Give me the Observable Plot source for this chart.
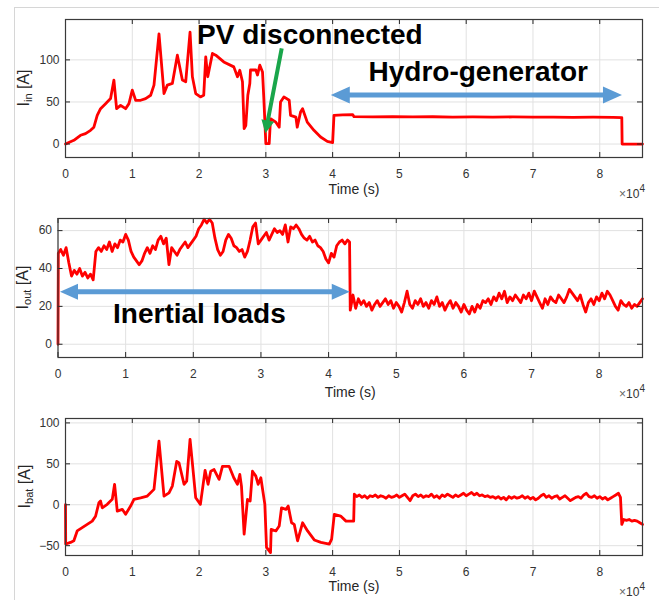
<!DOCTYPE html>
<html>
<head>
<meta charset="utf-8">
<script src="https://cdn.jsdelivr.net/npm/d3@7"></script>
<script src="https://cdn.jsdelivr.net/npm/@observablehq/plot@0.6"></script>
<style>
  html, body { margin: 0; padding: 0; background: #fff; }
  #fig { position: relative; width: 664px; height: 600px; overflow: hidden; background: #fff;
         font-family: "Liberation Sans", Arial, Helvetica, sans-serif; }
  #border { position: absolute; left: 14px; top: 7px; width: 644px; height: 600px;
            border-left: 1px solid #d6d6d6; border-top: 1px solid #d6d6d6; }
  #fig svg { position: absolute; left: 0; }
</style>
</head>
<body>
<div id="fig"><div id="border"></div></div>
<script>
// ---------------- data (time in units of 10^4 s, currents in A) ----------------
const xTicks = [0, 1, 2, 3, 4, 5, 6, 7, 8];
const xDomain = [0, 8.64];
const inTicks = [0, 50, 100];
const outTicks = [0, 20, 40, 60];
const batTicks = [-50, 0, 50, 100];

// I_in
const tIn = [
  0, 0.125, 0.225, 0.30, 0.375, 0.425, 0.475, 0.525, 0.60, 0.675, 0.725, 0.765, 0.825, 0.90, 0.95,
  1.0, 1.05, 1.125, 1.20, 1.275, 1.325, 1.40, 1.475, 1.525, 1.60, 1.675, 1.75, 1.80, 1.865, 1.90, 1.95,
  2.02, 2.07, 2.10, 2.13, 2.20, 2.25, 2.37, 2.52, 2.575, 2.61, 2.65, 2.675, 2.70, 2.73, 2.76, 2.77, 2.85, 2.875, 2.91, 2.95, 2.97,
  3.0, 3.05, 3.07, 3.15, 3.20, 3.22, 3.27, 3.35, 3.37, 3.45, 3.47, 3.52, 3.55, 3.62, 3.72, 3.82, 3.92, 4.0,
  4.02, 4.15, 4.30, 4.32, 4.6, 4.9, 5.2, 5.5, 5.8, 6.1, 6.4, 6.7, 7.0, 7.3, 7.6, 7.9, 8.2, 8.33, 8.335, 8.64
];
const iIn = [
  0, 4.4, 10.4, 12.4, 16.3, 20, 34, 42, 48, 54, 76, 42, 46, 42, 48,
  64, 52, 52, 54, 58, 70, 131, 60, 70, 72, 105.6, 76, 74, 133, 80, 60,
  56, 58, 103.6, 80, 107.6, 105.6, 97.6, 91.7, 80, 87.7, 74, 18.3, 22, 58, 72, 88, 88, 82, 93.7, 85.7, 54,
  0.5, 0.5, 30, 26, 20, 50, 56, 52, 34, 32, 20, 38, 42, 26, 16.3, 8.3, 3.2, 1.7,
  34, 34.6, 35, 32.5, 32.3, 32.6, 32.2, 32.4, 32.1, 32.3, 32, 32.2, 31.9, 32.1, 31.8, 31.9, 31.6, 31.5, 0, 0
];

// I_out
const tOut = [
  0, 0.005, 0.04, 0.08, 0.12, 0.16, 0.20, 0.24, 0.28, 0.32, 0.36, 0.40, 0.44, 0.48, 0.52,
  0.56, 0.60, 0.64, 0.68, 0.72, 0.76, 0.80, 0.84, 0.88, 0.92, 0.96, 1.00,
  1.04, 1.08, 1.12, 1.16, 1.20, 1.24, 1.28, 1.32, 1.36, 1.40, 1.44, 1.48, 1.52,
  1.56, 1.60, 1.64, 1.68, 1.72, 1.76, 1.80, 1.84, 1.88, 1.92, 1.96, 2.00,
  2.04, 2.08, 2.12, 2.16, 2.20, 2.24, 2.28, 2.32, 2.36, 2.40, 2.44, 2.48, 2.52,
  2.56, 2.60, 2.64, 2.68, 2.72, 2.76, 2.80, 2.84, 2.88, 2.92, 2.96, 3.00,
  3.04, 3.08, 3.12, 3.16, 3.20, 3.24, 3.28, 3.32, 3.36, 3.40, 3.44, 3.48, 3.52,
  3.56, 3.60, 3.64, 3.68, 3.72, 3.76, 3.80, 3.84, 3.88, 3.92, 3.96, 4.00,
  4.04, 4.08, 4.12, 4.16, 4.20, 4.24, 4.28, 4.31, 4.32,
  4.36, 4.40, 4.44, 4.48, 4.52, 4.56, 4.60, 4.64, 4.68, 4.72, 4.76, 4.80, 4.84, 4.88, 4.92, 4.96, 5.00,
  5.04, 5.08, 5.12, 5.16, 5.20, 5.24, 5.28, 5.32, 5.36, 5.40, 5.44, 5.48, 5.52, 5.56, 5.60, 5.64, 5.68, 5.72, 5.76, 5.80, 5.84, 5.88, 5.92, 5.96, 6.00,
  6.04, 6.08, 6.12, 6.16, 6.20, 6.24, 6.28, 6.32, 6.36, 6.40, 6.44, 6.48, 6.52, 6.56, 6.60, 6.64, 6.68, 6.72, 6.76, 6.80, 6.84, 6.88, 6.92, 6.96, 7.00,
  7.04, 7.08, 7.12, 7.16, 7.20, 7.24, 7.28, 7.32, 7.36, 7.40, 7.44, 7.48, 7.52, 7.56, 7.60, 7.64, 7.68, 7.72, 7.76, 7.80, 7.84, 7.88, 7.92, 7.96, 8.00,
  8.04, 8.08, 8.12, 8.16, 8.20, 8.24, 8.28, 8.32, 8.36, 8.40, 8.44, 8.48, 8.52, 8.56, 8.60, 8.64
];
const iOut = [
  0, 48, 50, 47, 51, 43, 36, 39, 37, 40, 36, 38, 35, 37, 34,
  49, 51, 49, 52, 50, 54, 49, 53, 51, 55, 54, 58,
  55, 49, 46, 44, 42, 44, 48, 51, 48, 52, 50, 55, 57,
  53, 56, 42, 51, 49, 47, 50, 52, 54, 51, 53, 55,
  57, 61, 63, 66, 64, 66, 64, 56, 50, 47, 49, 55, 58,
  56, 52, 51, 49, 50, 46, 49, 55, 62, 64, 53, 55,
  57, 59, 55, 58, 61, 59, 60, 58, 63, 54, 62, 61, 63,
  61, 58, 56, 55, 57, 54, 55, 52, 51, 49, 45, 43,
  48, 46, 52, 54, 55, 53, 55, 54, 18,
  26, 19, 24, 21, 23, 20, 22, 18, 21, 23, 20, 22, 24, 21, 23, 19, 22,
  20, 17, 22, 28, 21, 19, 23, 21, 24, 20, 22, 19, 23, 21, 25, 20, 22, 18, 21, 23, 19, 22, 20, 17, 21,
  18, 16, 20, 17, 21, 19, 23, 22, 24, 21, 25, 23, 27, 24, 28, 22, 25, 23, 26, 24, 22, 26, 24, 27, 23,
  28, 25, 22, 19, 24, 21, 25, 23, 22, 26, 24, 22, 25, 29, 27, 25, 23, 26, 21, 17, 22, 24, 21, 25, 23,
  27, 24, 28, 26, 23, 20, 18, 23, 21, 20, 22, 19, 21, 20, 22, 24
];

// I_bat
const tBat = [
  0, 0.003, 0.075, 0.125, 0.175, 0.25, 0.325, 0.40, 0.45, 0.50, 0.525, 0.55, 0.625, 0.70, 0.735, 0.775, 0.85, 0.90, 0.975,
  1.025, 1.125, 1.225, 1.325, 1.40, 1.475, 1.55, 1.60, 1.665, 1.70, 1.775, 1.815, 1.865, 1.90, 1.95, 2.02,
  2.09, 2.135, 2.175, 2.225, 2.30, 2.35, 2.45, 2.52, 2.575, 2.61, 2.635, 2.675, 2.725, 2.765, 2.80, 2.85, 2.885, 2.925, 2.985,
  3.01, 3.07, 3.08, 3.15, 3.20, 3.235, 3.30, 3.335, 3.385, 3.425, 3.475, 3.55, 3.625, 3.725, 3.825, 3.95, 3.985,
  4.025, 4.12, 4.20, 4.27, 4.315, 4.325,
  4.36, 4.40, 4.44, 4.48, 4.52, 4.56, 4.60, 4.64, 4.68, 4.72, 4.76, 4.80, 4.84, 4.88, 4.92, 4.96, 5.00,
  5.04, 5.08, 5.12, 5.16, 5.20, 5.24, 5.28, 5.32, 5.36, 5.40, 5.44, 5.48, 5.52, 5.56, 5.60, 5.64, 5.68, 5.72, 5.76, 5.80, 5.84, 5.88, 5.92, 5.96, 6.00,
  6.04, 6.08, 6.12, 6.16, 6.20, 6.24, 6.28, 6.32, 6.36, 6.40, 6.44, 6.48, 6.52, 6.56, 6.60, 6.64, 6.68, 6.72, 6.76, 6.80, 6.84, 6.88, 6.92, 6.96, 7.00,
  7.04, 7.08, 7.12, 7.16, 7.20, 7.24, 7.28, 7.32, 7.36, 7.40, 7.44, 7.48, 7.52, 7.56, 7.60, 7.64, 7.68, 7.72, 7.76, 7.80, 7.84, 7.88, 7.92, 7.96, 8.00,
  8.04, 8.08, 8.12, 8.16, 8.20, 8.24, 8.28, 8.31, 8.33, 8.36, 8.40, 8.44, 8.48, 8.52, 8.56, 8.60, 8.64
];
const iBat = [
  0, -48, -46, -44, -32, -28, -24, -20, -14, 2.4, 4.5, -3.7, 0.5, 6.6, 25, -7.7, -5.6, -11.7, -1.6,
  6.6, 8.5, 10.6, 18.8, 77.7, 10.6, 14.6, 22.8, 53, 51, 25, 29, 79.8, 51, 8.5, 0.5,
  42, 25, 41, 43, 31, 47, 47, 33, 25, 37, 22.8, -36, 6.6, 4.5, 41, 35, 25, 33, 0.5,
  -52, -58.5, -30, -32, -26, -3.7, -5.6, -1.6, -22, -24, -44, -22, -32, -43, -46, -48, -42,
  -11.7, -13.8, -20, -20, -20, 13,
  10, 12, 9, 11, 8, 11, 10, 12, 9, 11, 10, 8, 11, 9, 10, 12, 9,
  11, 13, 9, 5, 11, 13, 10, 12, 9, 11, 10, 13, 9, 11, 8, 12, 10, 13, 11, 9, 12, 10, 12, 14, 11,
  13, 15, 12, 14, 11, 12, 10, 11, 9, 10, 8, 10, 7, 9, 6, 10, 8, 10, 8, 9, 11, 8, 10, 7, 9,
  6, 8, 11, 13, 9, 11, 8, 10, 11, 7, 9, 11, 8, 5, 7, 9, 10, 8, 12, 14, 10, 9, 11, 8, 10,
  7, 9, 6, 8, 10, 12, 14, 9, -24, -18, -19, -18, -20, -19, -20, -22, -24
];

// annotations (data units)
const pvNote = [{x: 3.66, y: 129.6, text: "PV disconnected"}];
const hydroNote = [{x: 6.18, y: 85, text: "Hydro-generator"}];
const inertialNote = [{x: 2.09, y: 15.9, text: "Inertial loads"}];
const pvArrow = {x1: 3.245, y1: 113.2, x2: 3.0, y2: 12.2};
const hydroArrow = {x1: 3.98, y1: 57.7, x2: 8.34, y2: 57.7};
const inertialArrow = {x1: 0.037, y1: 27.5, x2: 4.32, y2: 27.5};

// ---------------- drawing ----------------
const FONT = '"Liberation Sans", Arial, Helvetica, sans-serif';
const RED = "#ff0000";
const BLUE = "#5b9bd5";
const GREEN = "#1aa64b";

// filled arrow drawn through the plot's scales
function arrowMark(a, {fill, shaft, headLen, headW, both}) {
  return (index, scales) => {
    const x1 = scales.x(a.x1), y1 = scales.y(a.y1), x2 = scales.x(a.x2), y2 = scales.y(a.y2);
    const dx = x2 - x1, dy = y2 - y1, L = Math.hypot(dx, dy);
    const ux = dx / L, uy = dy / L, nx = -uy, ny = ux;
    const P = (s, n) => [x1 + ux * s + nx * n, y1 + uy * s + ny * n];
    const s1 = L - headLen, s0 = headLen;
    let pts = [P(L, 0), P(s1, headW / 2), P(s1, shaft / 2)];
    if (both) pts = pts.concat([P(s0, shaft / 2), P(s0, headW / 2), P(0, 0), P(s0, -headW / 2), P(s0, -shaft / 2)]);
    else pts = pts.concat([P(0, shaft / 2), P(0, -shaft / 2)]);
    pts = pts.concat([P(s1, -shaft / 2), P(s1, -headW / 2)]);
    return d3.create("svg:path")
      .attr("d", "M" + pts.map(p => p[0].toFixed(2) + "," + p[1].toFixed(2)).join("L") + "Z")
      .attr("fill", fill)
      .node();
  };
}

function panel({top, mL, mT, mB, yDomain, yTicks, t, v, sub, labelX, timeDy, extra}) {
  const W = 664, H = 200, mR = 22;
  const frameH = H - mT - mB, frameW = W - mL - mR;
  const data = t.map((x, i) => ({x, y: v[i]}));
  const svg = Plot.plot({
    width: W, height: H,
    marginLeft: mL, marginRight: mR, marginTop: mT, marginBottom: mB,
    style: {fontFamily: FONT, fontSize: "12px", color: "#333", background: "transparent", overflow: "visible"},
    x: {domain: xDomain},
    y: {domain: yDomain},
    marks: [
      Plot.gridX({ticks: xTicks, stroke: "#e1e1e1", strokeOpacity: 1}),
      Plot.gridY({ticks: yTicks, stroke: "#e1e1e1", strokeOpacity: 1}),
      Plot.line(data, {x: "x", y: "y", stroke: RED, strokeWidth: 2.8, strokeLinejoin: "round"}),
      Plot.tickX(xTicks, {x: d => d, insetTop: frameH - 5, stroke: "#262626"}),
      Plot.tickX(xTicks, {x: d => d, insetBottom: frameH - 5, stroke: "#262626"}),
      Plot.tickY(yTicks, {y: d => d, insetRight: frameW - 5, stroke: "#262626"}),
      Plot.tickY(yTicks, {y: d => d, insetLeft: frameW - 5, stroke: "#262626"}),
      Plot.frame({stroke: "#3a3a3a", strokeWidth: 1.2}),
      Plot.axisX({ticks: xTicks, tickSize: 0, tickPadding: 12, label: null, fontSize: 12, fill: "#333"}),
      Plot.axisY({ticks: yTicks, tickSize: 0, tickPadding: 6, label: null, fontSize: 12, fill: "#333"}),
      Plot.text(["Time (s)"], {text: d => d, frameAnchor: "bottom", dy: timeDy, fontSize: 14, fill: "#262626"}),
      ...extra
    ]
  });
  svg.style.top = top + "px";
  const root = d3.select(svg);
  // y label with subscript
  const lab = root.append("text")
    .attr("transform", `translate(${labelX},${mT + frameH / 2}) rotate(-90)`)
    .attr("text-anchor", "middle")
    .attr("dominant-baseline", "middle")
    .attr("font-family", FONT)
    .attr("font-size", 16)
    .attr("fill", "#262626");
  lab.append("tspan").text("I");
  lab.append("tspan").attr("font-size", 11).attr("dy", 4).text(sub);
  lab.append("tspan").attr("dy", -4).text(" [A]");
  // exponent label ×10^4
  const ex = root.append("text")
    .attr("x", W - mR + 3)
    .attr("y", mT + frameH + 41)
    .attr("text-anchor", "end")
    .attr("font-family", FONT)
    .attr("font-size", 12)
    .attr("fill", "#333");
  ex.append("tspan").attr("fill", "#666").text("×");
  ex.append("tspan").text("10");
  ex.append("tspan").attr("font-size", 10).attr("dy", -6).text("4");
  return svg;
}

const fig = document.getElementById("fig");
const bold = {fontSize: 28, fontWeight: "bold", fill: "#000", fontFamily: FONT};

fig.appendChild(panel({
  top: 0, mL: 65, mT: 19, mB: 43, yDomain: [-16, 148], yTicks: inTicks, t: tIn, v: iIn,
  sub: "in", labelX: 25, timeDy: 36,
  extra: [
    arrowMark(hydroArrow, {fill: BLUE, shaft: 5, headLen: 19, headW: 17, both: true}),
    Plot.text(hydroNote, {x: "x", y: "y", text: "text", ...bold}),
    Plot.text(pvNote, {x: "x", y: "y", text: "text", ...bold}),
    arrowMark(pvArrow, {fill: GREEN, shaft: 4, headLen: 13, headW: 13, both: false})
  ]
}));

fig.appendChild(panel({
  top: 200, mL: 57.5, mT: 18, mB: 43, yDomain: [-7, 66.4], yTicks: outTicks, t: tOut, v: iOut,
  sub: "out", labelX: 24, timeDy: 39,
  extra: [
    arrowMark(inertialArrow, {fill: BLUE, shaft: 5, headLen: 18, headW: 16, both: true}),
    Plot.text(inertialNote, {x: "x", y: "y", text: "text", ...bold})
  ]
}));

fig.appendChild(panel({
  top: 400, mL: 65, mT: 18, mB: 45, yDomain: [-62, 105.4], yTicks: batTicks, t: tBat, v: iBat,
  sub: "bat", labelX: 25.5, timeDy: 35,
  extra: []
}));
</script>
</body>
</html>
